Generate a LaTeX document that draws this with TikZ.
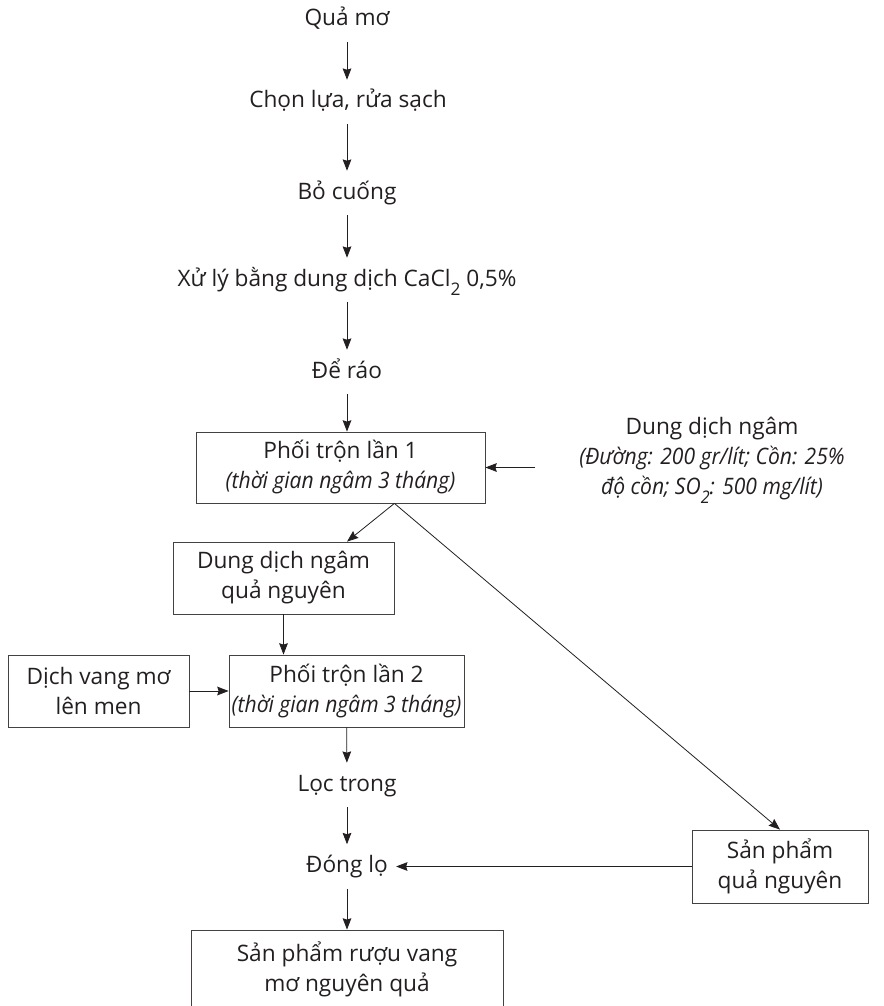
\documentclass[tikz,border=0pt]{standalone}
\usepackage{fontspec}
\setmainfont{Open Sans}[ItalicFeatures={FakeStretch=0.93}]
\usepackage{tikz}
\usetikzlibrary{arrows.meta,positioning}
\definecolor{inkgray}{HTML}{231F20}
\newcommand{\chemsub}[1]{\raisebox{-0.4em}{\fontsize{13}{13}\selectfont #1}}

\begin{document}
\begin{tikzpicture}[
  x=0.75pt, y=-0.75pt,
  font=\fontsize{17}{22.5}\selectfont, text=inkgray,
  lbl/.style={align=center, text height=13pt, text depth=4pt, inner xsep=6pt, inner ysep=8pt},
  box/.style={draw=inkgray!85, line width=0.6pt, align=center, inner sep=0pt, minimum height=54pt},
  arr/.style={-{Stealth[length=8.5pt,width=6.5pt,inset=1pt]}, line width=0.6pt, draw=inkgray}
]
\useasboundingbox (0,0) rectangle (883,1006);
\node[lbl] (fruit) at (347,20) {Quả mơ};
\node[lbl] (sort) at (348,102) {Chọn lựa, rửa sạch};
\node[lbl] (stem) at (347,193) {Bỏ cuống};
\node[lbl] (treat) at (347,280) {Xử lý bằng dung dịch CaCl\chemsub{2} 0,5\%};
\node[lbl] (drain) at (347,372) {Để ráo};
\node[box, minimum width=216.75pt, minimum height=53.25pt] (mix1) at (340.5,467.5) {Phối trộn lần 1\\\textit{(thời gian ngâm 3 tháng)}};
\node[align=center] (soak) at (712,460) {Dung dịch ngâm\\\textit{(Đường: 200 gr/lít; Cồn: 25\%}\\\textit{độ cồn; SO\chemsub{2}: 500 mg/lít)}};
\node[box, minimum width=165.75pt] (liquor) at (283.5,578) {Dung dịch ngâm\\quả nguyên};
\node[box, minimum width=161.25pt, inner xsep=2pt] (mix2) at (346.5,691) {Phối trộn lần 2\\\textit{(thời gian ngâm 3 tháng)}};
\node[box, minimum width=135.75pt] (wine) at (98.5,691) {Dịch vang mơ\\lên men};
\node[lbl] (filter) at (347,785) {Lọc trong};
\node[lbl] (bottle) at (347,866.5) {Đóng lọ};
\node[box, minimum width=132pt, minimum height=54.75pt] (fruitprod) at (780,866.5) {Sản phẩm\\quả nguyên};
\node[box, minimum width=234pt, minimum height=58.5pt] (final) at (347,969) {Sản phẩm rượu vang\\mơ nguyên quả};
\coordinate (split) at (mix1.south -| liquor.east);
\draw[arr] (fruit) -- (sort.north -| fruit);
\draw[arr] (sort.south -| fruit) -- (stem);
\draw[arr] (stem) -- (treat);
\draw[arr] (treat) -- (drain);
\draw[arr] (drain) -- (drain |- mix1.north);
\draw[arr, shorten <=30pt] (mix1.east -| soak.west) -- (mix1.east);
\draw[arr] (split) -- (liquor.north -| drain);
\draw[arr] (split) -- (fruitprod.north);
\draw[arr] (liquor.south) -- (liquor.south |- mix2.north);
\draw[arr] (wine) -- (mix2);
\draw[arr] (mix2) -- (filter);
\draw[arr] (filter) -- (bottle);
\draw[arr] (fruitprod) -- (bottle);
\draw[arr] (bottle) -- (final);
\end{tikzpicture}
\end{document}
